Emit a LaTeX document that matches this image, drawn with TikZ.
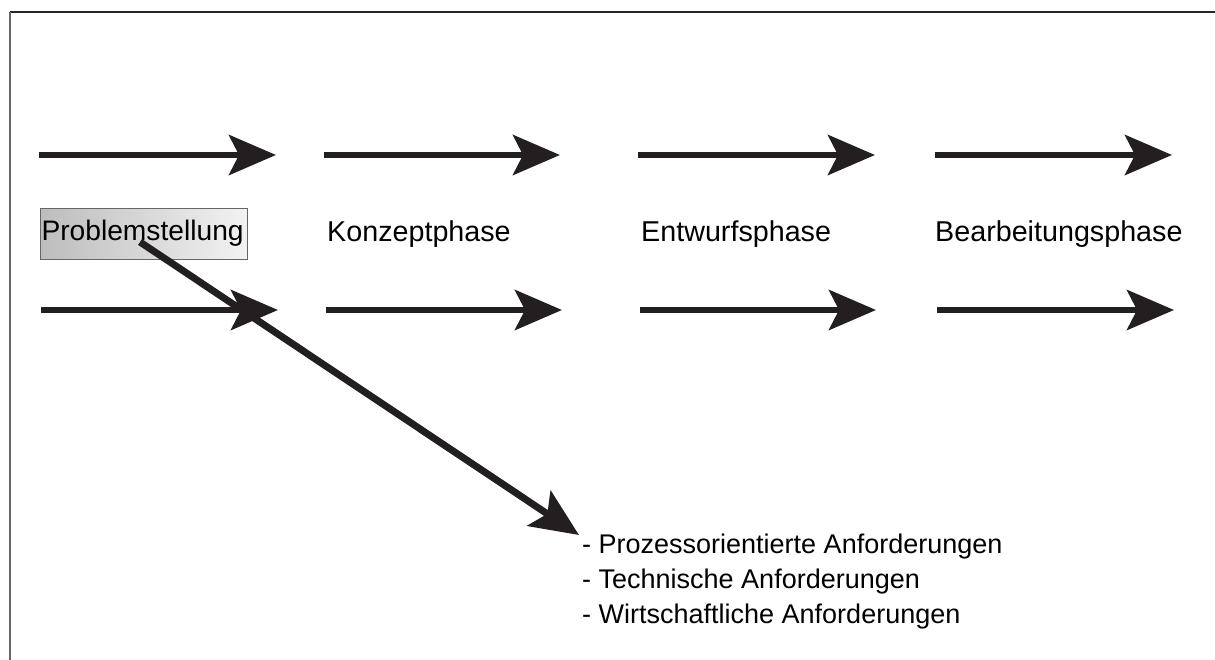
\documentclass[tikz,border=0pt]{standalone}
\usepackage{fontspec}
\setmainfont{Liberation Sans}
\usetikzlibrary{arrows.meta,calc}
\definecolor{ink}{HTML}{231F20}
\definecolor{shadeL}{HTML}{BDBDBD}
\definecolor{shadeR}{HTML}{F2F2F2}
\tikzset{
  phasearrow/.style={draw=ink, line width=6.5pt,
    -{Stealth[length=47pt, width=40pt, inset=10pt, fill=ink]}},
  label/.style={anchor=base west, inner sep=0pt, text=black,
    font=\fontsize{28.7}{34}\selectfont},
  listtext/.style={anchor=base west, inner sep=0pt, text=black,
    font=\fontsize{27}{35}\selectfont},
  % left-to-right grey gradient built from thin strips
  stripshade/.style={path picture={
    \foreach \i in {0,...,59}{
      \pgfmathsetmacro\t{\i*100/59}
      \fill[shadeR!\t!shadeL]
        ($(path picture bounding box.south west)!\i/60!(path picture bounding box.south east)$)
        rectangle
        ($(path picture bounding box.north west)!{(\i+1.3)/60}!(path picture bounding box.north east)$);
    }}},
}
\begin{document}
\begin{tikzpicture}[x=1pt, y=-1pt]
  \useasboundingbox (0,0) rectangle (1215,660);
  \fill[white] (0,0) rectangle (1215,660);

  % frame lines
  \draw[black!85, line width=1.8pt] (10,12) -- (1215,12);
  \draw[black!60, line width=2pt] (10,12) -- (10,660);

  % end points of the phase arrows
  \coordinate (a1s) at (39,155);  \coordinate (a1e) at (276,155);
  \coordinate (a2s) at (324,155); \coordinate (a2e) at (560,155);
  \coordinate (a3s) at (638,155); \coordinate (a3e) at (875,155);
  \coordinate (a4s) at (935,155); \coordinate (a4e) at (1172,155);
  \coordinate (b1s) at (41,310);  \coordinate (b1e) at (278,310);
  \coordinate (b2s) at (326,310); \coordinate (b2e) at (562,310);
  \coordinate (b3s) at (640,310); \coordinate (b3e) at (876,310);
  \coordinate (b4s) at (937,310); \coordinate (b4e) at (1174,310);

  % phase labels
  \node[draw=black!60, line width=0.8pt, stripshade,
        minimum width=207pt, minimum height=51pt, inner xsep=1.5pt,
        text width=204pt, align=left, font=\fontsize{28.2}{34}\selectfont]
        (prob) at (143.5,233.5) {Problemstellung};
  \node[label] (konz) at (327,242) {Konzeptphase};
  \node[label] (entw) at (641,242) {Entwurfsphase};
  \node[label] (bear) at (935,242) {Bearbeitungsphase};

  % upper and lower arrow rows
  \foreach \p in {a1,a2,a3,a4,b1,b2,b3,b4}
    \draw[phasearrow] (\p s) -- (\p e);

  % requirement list
  \node[listtext] (req1) at (582,553) {- Prozessorientierte Anforderungen};
  \node[listtext] (req2) at (582,588) {- Technische Anforderungen};
  \node[listtext] (req3) at (582,623) {- Wirtschaftliche Anforderungen};

  % diagonal arrow from the problem statement to the list
  \coordinate (ds) at (140,242);
  \coordinate (de) at (579,535);
  \draw[phasearrow, line width=7pt,
        -{Stealth[length=48pt, width=42pt, inset=10pt, fill=ink]}] (ds) -- (de);
\end{tikzpicture}
\end{document}
